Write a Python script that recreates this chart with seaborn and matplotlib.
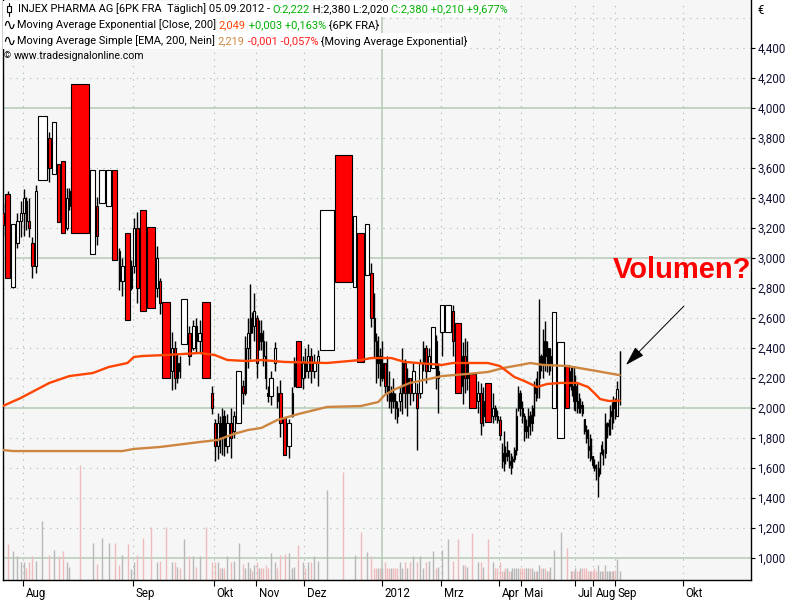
import numpy as np
import pandas as pd
import matplotlib
matplotlib.use("Agg")
import matplotlib.pyplot as plt
import seaborn as sns
from matplotlib.transforms import ScaledTranslation, IdentityTransform
from matplotlib.patches import Rectangle
from matplotlib.lines import Line2D

# ---------------- data (equivolume candles, INJEX PHARMA AG, daily) ----------------
opens = [3.30, 3.43, 2.81, 3.10, 3.25, 3.30, 3.38, 3.25, 3.10, 2.95,
         3.52, 3.80, 3.56, 3.63, 3.65, 3.20, 3.35, 4.16, 3.03, 3.35,
         3.37, 3.35, 3.59, 3.05, 2.85, 3.17, 2.80, 2.95, 3.20, 3.32,
         3.21, 2.80, 2.85, 2.71, 2.25, 2.40, 2.20, 2.30, 2.43, 2.50,
         2.40, 2.55, 2.45, 2.71, 2.10, 1.90, 1.75, 1.90, 1.80, 1.95,
         1.75, 1.90, 1.85, 1.90, 2.15, 2.10, 2.40, 2.50, 2.60, 2.55,
         2.60, 2.45, 2.50, 2.45, 2.35, 2.10, 2.08, 2.30, 2.10, 2.10,
         1.94, 1.75, 1.95, 2.15, 2.45, 2.20, 2.30, 2.25, 2.35, 2.25,
         2.30, 2.39, 3.69, 2.81, 3.17, 2.89, 2.90, 2.60, 2.45, 2.30,
         2.35, 2.20, 2.30, 2.15, 2.10, 2.05, 2.10, 2.05, 2.00, 2.05,
         2.10, 2.30, 2.10, 2.20, 2.10, 2.10, 2.10, 2.30, 2.40, 2.25,
         2.27, 2.45, 2.20, 2.51, 2.51, 2.65, 2.57, 2.15, 2.35, 2.20,
         2.23, 2.05, 2.10, 1.95, 2.17, 1.95, 2.00, 1.95, 1.92, 1.75,
         1.65, 1.70, 1.68, 1.70, 1.62, 1.65, 1.66, 1.72, 2.00, 2.10,
         2.00, 1.95, 1.85, 1.88, 1.95, 1.90, 2.00, 2.15, 2.10, 2.20,
         2.35, 2.30, 2.45, 2.35, 2.40, 2.30, 2.00, 1.80, 2.29, 2.15,
         2.25, 2.15, 2.05, 2.15, 2.05, 2.00, 2.02, 1.93, 1.85, 1.80,
         1.72, 1.75, 1.68, 1.62, 1.60, 1.55, 1.60, 1.70, 1.72, 1.70,
         1.85, 1.88, 1.90, 1.98, 1.95, 2.05, 1.95, 2.222]
highs = [3.37, 3.45, 3.23, 3.30, 3.38, 3.46, 3.41, 3.40, 3.14, 3.49,
         3.95, 3.84, 3.91, 3.63, 3.65, 3.47, 3.47, 4.16, 3.59, 3.41,
         3.59, 3.59, 3.59, 3.07, 3.00, 3.17, 2.99, 3.27, 3.31, 3.32,
         3.21, 3.08, 2.87, 2.71, 2.51, 2.45, 2.37, 2.35, 2.73, 2.55,
         2.59, 2.60, 2.59, 2.71, 2.15, 1.93, 1.97, 1.95, 2.00, 1.99,
         1.96, 2.00, 1.98, 2.25, 2.19, 2.48, 2.60, 2.83, 2.64, 2.77,
         2.62, 2.59, 2.59, 2.52, 2.45, 2.15, 2.25, 2.44, 2.15, 2.19,
         1.94, 1.93, 2.14, 2.34, 2.45, 2.35, 2.40, 2.43, 2.40, 2.36,
         2.39, 3.32, 3.69, 3.28, 3.17, 3.23, 2.97, 2.77, 2.50, 2.48,
         2.40, 2.45, 2.30, 2.35, 2.25, 2.15, 2.20, 2.10, 2.05, 2.15,
         2.40, 2.33, 2.27, 2.20, 2.30, 2.17, 2.33, 2.45, 2.42, 2.40,
         2.54, 2.49, 2.30, 2.69, 2.69, 2.69, 2.57, 2.44, 2.47, 2.45,
         2.23, 2.18, 2.17, 2.14, 2.17, 2.10, 2.02, 1.99, 1.95, 1.77,
         1.85, 1.75, 1.78, 1.72, 1.70, 1.68, 1.74, 2.00, 2.15, 2.12,
         2.05, 1.97, 1.93, 2.00, 1.98, 2.02, 2.18, 2.20, 2.25, 2.73,
         2.36, 2.53, 2.58, 2.45, 2.40, 2.40, 2.64, 2.44, 2.29, 2.28,
         2.28, 2.28, 2.22, 2.17, 2.10, 2.07, 2.05, 1.93, 1.89, 1.86,
         1.83, 1.80, 1.68, 1.66, 1.63, 1.65, 1.71, 1.78, 1.73, 1.97,
         1.91, 1.93, 2.02, 2.04, 2.08, 2.07, 2.18, 2.38]
lows = [3.15, 2.87, 2.80, 3.07, 3.14, 3.15, 3.19, 3.14, 2.87, 2.90,
        3.52, 3.51, 3.56, 3.24, 3.17, 3.19, 3.32, 3.17, 3.03, 3.09,
        3.37, 3.35, 2.99, 2.79, 2.75, 2.59, 2.79, 2.90, 2.70, 2.65,
        2.67, 2.74, 2.63, 2.20, 2.12, 2.13, 2.17, 2.20, 2.43, 2.29,
        2.39, 2.37, 2.37, 2.20, 1.96, 1.65, 1.66, 1.70, 1.69, 1.68,
        1.70, 1.67, 1.80, 1.90, 2.03, 2.09, 2.27, 2.33, 2.50, 2.45,
        2.20, 2.39, 2.39, 2.28, 2.13, 2.04, 2.02, 2.25, 2.00, 1.81,
        1.69, 1.67, 1.94, 2.14, 2.14, 2.13, 2.20, 2.20, 2.17, 2.20,
        2.15, 2.39, 2.84, 2.81, 2.31, 2.89, 2.54, 2.34, 2.17, 2.20,
        2.15, 2.18, 2.10, 2.05, 2.00, 1.97, 2.00, 1.93, 1.90, 1.98,
        1.96, 2.00, 1.95, 2.02, 2.05, 1.72, 2.07, 2.25, 2.17, 2.25,
        2.27, 2.13, 1.97, 2.35, 2.51, 2.35, 2.10, 2.03, 2.10, 2.12,
        2.00, 1.97, 1.82, 1.88, 1.91, 1.90, 1.92, 1.90, 1.79, 1.60,
        1.58, 1.63, 1.65, 1.60, 1.56, 1.60, 1.64, 1.69, 1.98, 1.95,
        1.90, 1.78, 1.80, 1.80, 1.82, 1.85, 1.95, 2.05, 2.07, 2.07,
        2.25, 2.20, 2.25, 2.24, 2.22, 2.25, 2.00, 1.80, 2.00, 2.12,
        2.08, 1.99, 1.98, 1.97, 1.97, 1.97, 1.95, 1.83, 1.77, 1.67,
        1.65, 1.66, 1.60, 1.58, 1.52, 1.41, 1.56, 1.69, 1.62, 1.67,
        1.80, 1.82, 1.82, 1.86, 1.90, 1.93, 1.95, 2.02]
closes = [3.22, 2.87, 3.23, 3.25, 3.30, 3.40, 3.25, 3.20, 2.95, 3.45,
          3.95, 3.60, 3.91, 3.24, 3.17, 3.40, 3.45, 3.17, 3.59, 3.15,
          3.59, 3.59, 2.99, 2.85, 2.95, 2.59, 2.95, 3.20, 2.80, 2.65,
          2.67, 3.00, 2.70, 2.20, 2.40, 2.20, 2.30, 2.25, 2.73, 2.35,
          2.55, 2.45, 2.50, 2.20, 2.00, 1.75, 1.90, 1.80, 1.95, 1.75,
          1.90, 1.80, 1.95, 2.25, 2.10, 2.40, 2.50, 2.60, 2.55, 2.65,
          2.30, 2.50, 2.45, 2.35, 2.20, 2.08, 2.20, 2.40, 2.05, 1.90,
          1.69, 1.90, 2.10, 2.30, 2.14, 2.30, 2.25, 2.35, 2.25, 2.30,
          2.35, 3.32, 2.84, 3.28, 2.31, 3.23, 2.60, 2.45, 2.30, 2.35,
          2.20, 2.30, 2.15, 2.10, 2.05, 2.10, 2.05, 2.00, 1.95, 2.10,
          2.30, 2.10, 2.20, 2.10, 2.25, 2.00, 2.30, 2.40, 2.25, 2.35,
          2.54, 2.20, 2.25, 2.69, 2.69, 2.45, 2.10, 2.35, 2.20, 2.30,
          2.00, 2.10, 1.90, 2.05, 1.91, 2.00, 1.95, 1.92, 1.82, 1.65,
          1.70, 1.68, 1.72, 1.62, 1.65, 1.66, 1.72, 1.95, 2.10, 2.00,
          1.95, 1.85, 1.88, 1.95, 1.90, 2.00, 2.15, 2.10, 2.20, 2.35,
          2.30, 2.45, 2.35, 2.40, 2.30, 2.35, 2.64, 2.44, 2.00, 2.25,
          2.15, 2.05, 2.15, 2.05, 2.00, 2.02, 1.97, 1.85, 1.80, 1.72,
          1.75, 1.68, 1.62, 1.60, 1.55, 1.60, 1.68, 1.75, 1.70, 1.90,
          1.88, 1.90, 1.98, 1.95, 2.05, 2.00, 2.13, 2.38]
# relative volume per day (equivolume: candle width and volume bar height)
volumes = [3.5, 6, 4.8, 4, 3, 3, 2, 3, 4, 3.2,
           9.8, 4.2, 5, 4, 4.8, 3, 2.2, 19.2, 6.1, 2.7,
           7, 6.2, 6.1, 2.5, 4.2, 6, 1.8, 3, 4.2, 7,
           8.8, 3, 3.2, 8.8, 3, 3, 2.2, 2, 6.8, 4,
           4, 2.2, 4, 8.8, 3, 3, 3, 2, 2, 2,
           4, 3, 3.2, 6.2, 2.6, 2, 3, 2, 1.5, 2.5,
           3, 2, 2, 2, 2.5, 2, 4.5, 3, 2, 4.2,
           4.3, 4.5, 2, 2.2, 5.8, 3, 2, 3, 3, 4,
           3.2, 15, 18, 4.2, 8, 4.6, 4, 2, 2, 2,
           2, 2, 3, 2, 2, 2, 2, 2, 2, 3,
           2, 3, 2, 3, 4, 3, 4, 2, 3, 3.2,
           4.8, 2, 2.2, 5, 6.8, 3.2, 6.8, 2.5, 2.5, 2.2,
           7.8, 3, 3, 2.2, 6.8, 3, 2, 2, 3, 1.5,
           1.5, 2, 2, 1.5, 1.5, 2, 2, 2, 2, 2,
           2, 2, 2, 2, 2, 2, 1.5, 1.5, 1.5, 2.5,
           2, 2, 2, 1.5, 1.5, 2.2, 5, 8, 5.3, 1.5,
           1.5, 1.5, 2, 1.5, 1.5, 2, 2, 2, 2, 1.5,
           1.5, 1.5, 1.5, 2, 1.5, 2.5, 1.5, 1.5, 1.5, 2.5,
           1.5, 1.5, 1.5, 1.5, 1.5, 1.7, 3.5, 1.5]

# moving averages, sampled at candle indices
ema_idx = [0, 4, 9, 11, 16, 18, 21, 25, 27, 29, 33, 42, 45, 50, 56, 62, 70, 81, 84, 86,
           95, 101, 113, 115, 124, 128, 136, 141, 148, 153, 157, 163, 169, 173, 176, 181, 187]
ema_val = [2.013, 2.067, 2.12, 2.167, 2.213, 2.233, 2.273, 2.30, 2.34, 2.347, 2.353, 2.367,
           2.353, 2.32, 2.313, 2.32, 2.307, 2.30, 2.32, 2.333, 2.333, 2.307, 2.287, 2.30, 2.30,
           2.28, 2.207, 2.18, 2.14, 2.16, 2.167, 2.167, 2.14, 2.10, 2.06, 2.047, 2.049]
sma_idx = [0, 2, 24, 27, 32, 38, 42, 46, 52, 56, 62, 68, 74, 81, 84, 89, 92, 96, 103, 109,
           113, 119, 124, 130, 139, 144, 151, 158, 171, 187]
sma_val = [1.72, 1.713, 1.713, 1.727, 1.74, 1.76, 1.773, 1.787, 1.827, 1.853, 1.867, 1.92,
           1.96, 2.007, 2.013, 2.04, 2.087, 2.12, 2.167, 2.193, 2.213, 2.227, 2.24, 2.267,
           2.287, 2.30, 2.287, 2.28, 2.253, 2.219]

month_labels = ["Aug", "Sep", "Okt", "Nov", "Dez", "2012", "Mrz", "Apr", "Mai", "Jul", "Aug", "Sep", "Okt"]
month_pos = [23, 133, 214, 256, 304, 382, 441, 499, 521, 575, 593, 615, 683]
year_label = "2012"

# ---------------- layout ----------------
sns.set_theme(style="white")
FONT = ["Roboto", "Liberation Sans", "DejaVu Sans"]
plt.rcParams["font.family"] = FONT

W, H = 800, 600
fig = plt.figure(figsize=(8, 6), dpi=100)
fig.patch.set_facecolor("white")
ax = fig.add_axes([3 / W, 20 / H, 748 / W, 580 / H])
ax.set_facecolor("#f6f6f6")
ax.set_xlim(3, 751)
ax.set_ylim(2 - 172 / 150, 2 + 408 / 150)

o = np.array(opens); h = np.array(highs); l = np.array(lows); c = np.array(closes)
v = np.array(volumes, dtype=float)
lefts = 1.0 + np.concatenate([[0], np.cumsum(v)[:-1]])
centers = lefts + v / 2
body_w = np.maximum(v - 1.4, 0.5)

# grid
grid_col = "#9fbc9f"
solid_col = "#b6cab6"
for yv in np.round(np.arange(1.0, 4.61, 0.2), 1):
    if abs(yv - round(yv)) < 1e-6:
        ax.axhline(yv, color=solid_col, lw=1.1, zorder=0.5)
    else:
        ax.axhline(yv, color=grid_col, lw=0.8, ls=(0, (1, 5)), zorder=0.5)
for lab, xp in zip(month_labels, month_pos):
    if lab == year_label:
        ax.axvline(xp, color=solid_col, lw=1.1, zorder=0.5)
    else:
        ax.axvline(xp, color=grid_col, lw=0.8, ls=(0, (1, 5)), zorder=0.5)

# volume bars at the bottom (1 unit = 6 px)
vol_cols = np.where(c < o, "#eebcbc", "#b8b8b8")
ax.vlines(centers, 0, v * 6 / 580, colors=vol_cols, lw=1.0,
          transform=ax.get_xaxis_transform(), zorder=1)

# candles
ax.vlines(centers, l, h, colors="black", lw=1.0, zorder=3)
fills = np.where(c < o, "#ff0000", "#ffffff")
ax.bar(centers, np.abs(c - o), bottom=np.minimum(o, c), width=body_w,
       color=fills, edgecolor="black", linewidth=0.8, zorder=4)

# moving averages via seaborn
ema_df = pd.DataFrame({"x": centers[ema_idx], "v": ema_val})
sma_df = pd.DataFrame({"x": centers[sma_idx], "v": sma_val})
sns.lineplot(data=sma_df, x="x", y="v", ax=ax, color="#cd853f", linewidth=1.7,
             estimator=None, zorder=5)
sns.lineplot(data=ema_df, x="x", y="v", ax=ax, color="#ff4500", linewidth=1.7,
             estimator=None, zorder=6)
ax.set_xlabel("")
ax.set_ylabel("")

# axes styling
for side in ["left", "bottom", "right"]:
    ax.spines[side].set_visible(True)
    ax.spines[side].set_color("black")
    ax.spines[side].set_linewidth(1.0)
ax.spines["top"].set_visible(False)

yt = np.round(np.arange(1.0, 4.41, 0.2), 1)
ax.yaxis.tick_right()
ax.set_yticks(yt)
ax.set_yticklabels([f"{t:.3f}".replace(".", ",") for t in yt])
ax.tick_params(axis="y", which="both", direction="out", length=3, width=0.8,
               pad=1.5, labelsize=8.3, colors="black", labelcolor="#111133",
               left=False, right=True)
ax.set_xticks(month_pos)
ax.set_xticklabels(month_labels)
ax.tick_params(axis="x", direction="out", length=4, width=0.8, pad=1,
               labelsize=8.3, colors="black", bottom=True)
off = ScaledTranslation(2 / 72, 0, fig.dpi_scale_trans)
for lab in ax.get_xticklabels():
    lab.set_horizontalalignment("left")
    lab.set_transform(lab.get_transform() + off)
ax.grid(False)

# euro sign
fig.text(757 / W, 1 - 10 / H, "€", fontsize=8.3, ha="left", va="center", color="black")

# annotation
ax.text(682, 2.92, "Volumen?", color="#ff0000", fontsize=21, fontweight="bold",
        family=["Liberation Sans", "DejaVu Sans"],
        ha="center", va="center", zorder=8, clip_on=False)
ax.annotate("", xy=(626, 2.287), xytext=(684, 2.68),
            arrowprops=dict(arrowstyle="-|>,head_length=1.0,head_width=0.3",
                            color="black", lw=0.7, shrinkA=0, shrinkB=0),
            zorder=8)

# header texts (all inside ax so that backgrounds can sit beneath them)
green = "#00b000"
HS = 7.9


def chain(x_px, y_px, pieces, size=HS):
    t0 = ax.text(x_px / W, 1 - y_px / H, pieces[0][0], color=pieces[0][1], fontsize=size,
                 ha="left", va="center", transform=fig.transFigure, zorder=20, clip_on=False)
    arts = [t0]
    t = t0
    for s, col in pieces[1:]:
        t = ax.annotate(s, xy=(1, 0.5), xycoords=t, xytext=(0, 0), textcoords="offset points",
                        ha="left", va="center", color=col, fontsize=size,
                        annotation_clip=False, zorder=20)
        arts.append(t)
    return arts


rows = []
rows.append((9, chain(18, 9, [("INJEX PHARMA AG [6PK FRA  Täglich] 05.09.2012 - ", "black"),
                              ("O:2,222", green), (" H:2,380 L:2,020 ", "black"),
                              ("C:2,380 +0,210 +9,677%", green)])))
rows.append((25, chain(17, 25, [("Moving Average Exponential [Close, 200] ", "black"),
                                ("2,049", "#ff4500"), (" +0,003 +0,163%", green),
                                (" {6PK FRA}", "black")])))
rows.append((41, chain(17, 41, [("Moving Average Simple [EMA, 200, Nein] ", "black"),
                                ("2,219", "#cd853f"), (" -0,001 -0,057%", "#ff1a1a"),
                                (" {Moving Average Exponential}", "black")])))
ax.text(4 / W, 1 - 56 / H, "©", fontsize=6.5, ha="left", va="center", color="black",
        transform=fig.transFigure, zorder=20, clip_on=False)
ax.text(14 / W, 1 - 56 / H, "www.tradesignalonline.com", fontsize=7.6, ha="left",
        va="center", color="black", transform=fig.transFigure, zorder=20, clip_on=False)

# small icons in the header
for yy in (25, 41):
    ax.text(2.5 / W, 1 - yy / H, "∿", fontsize=11.5, family=["DejaVu Sans"], ha="left",
            va="center", color="black", zorder=21, transform=fig.transFigure, clip_on=False)
ax.add_line(Line2D([8.5 / W, 8.5 / W], [1 - 3 / H, 1 - 16 / H], transform=fig.transFigure,
                   color="black", lw=0.8, zorder=21, clip_on=False))
ax.add_patch(Rectangle((6.5 / W, 1 - 12 / H), 4 / W, 6 / H, transform=fig.transFigure,
                       fc="white", ec="black", lw=0.8, zorder=22, clip_on=False))

# white background bands behind the first three header rows
fig.canvas.draw()
for ypx, arts in rows:
    x_end = max(a.get_window_extent().x1 for a in arts)
    y_c = H - ypx
    ax.add_patch(Rectangle((3, y_c - 8), x_end + 2 - 3, 16, transform=IdentityTransform(),
                           fc="white", ec="none", zorder=15, clip_on=False))

fig.savefig("out.png", dpi=100)
